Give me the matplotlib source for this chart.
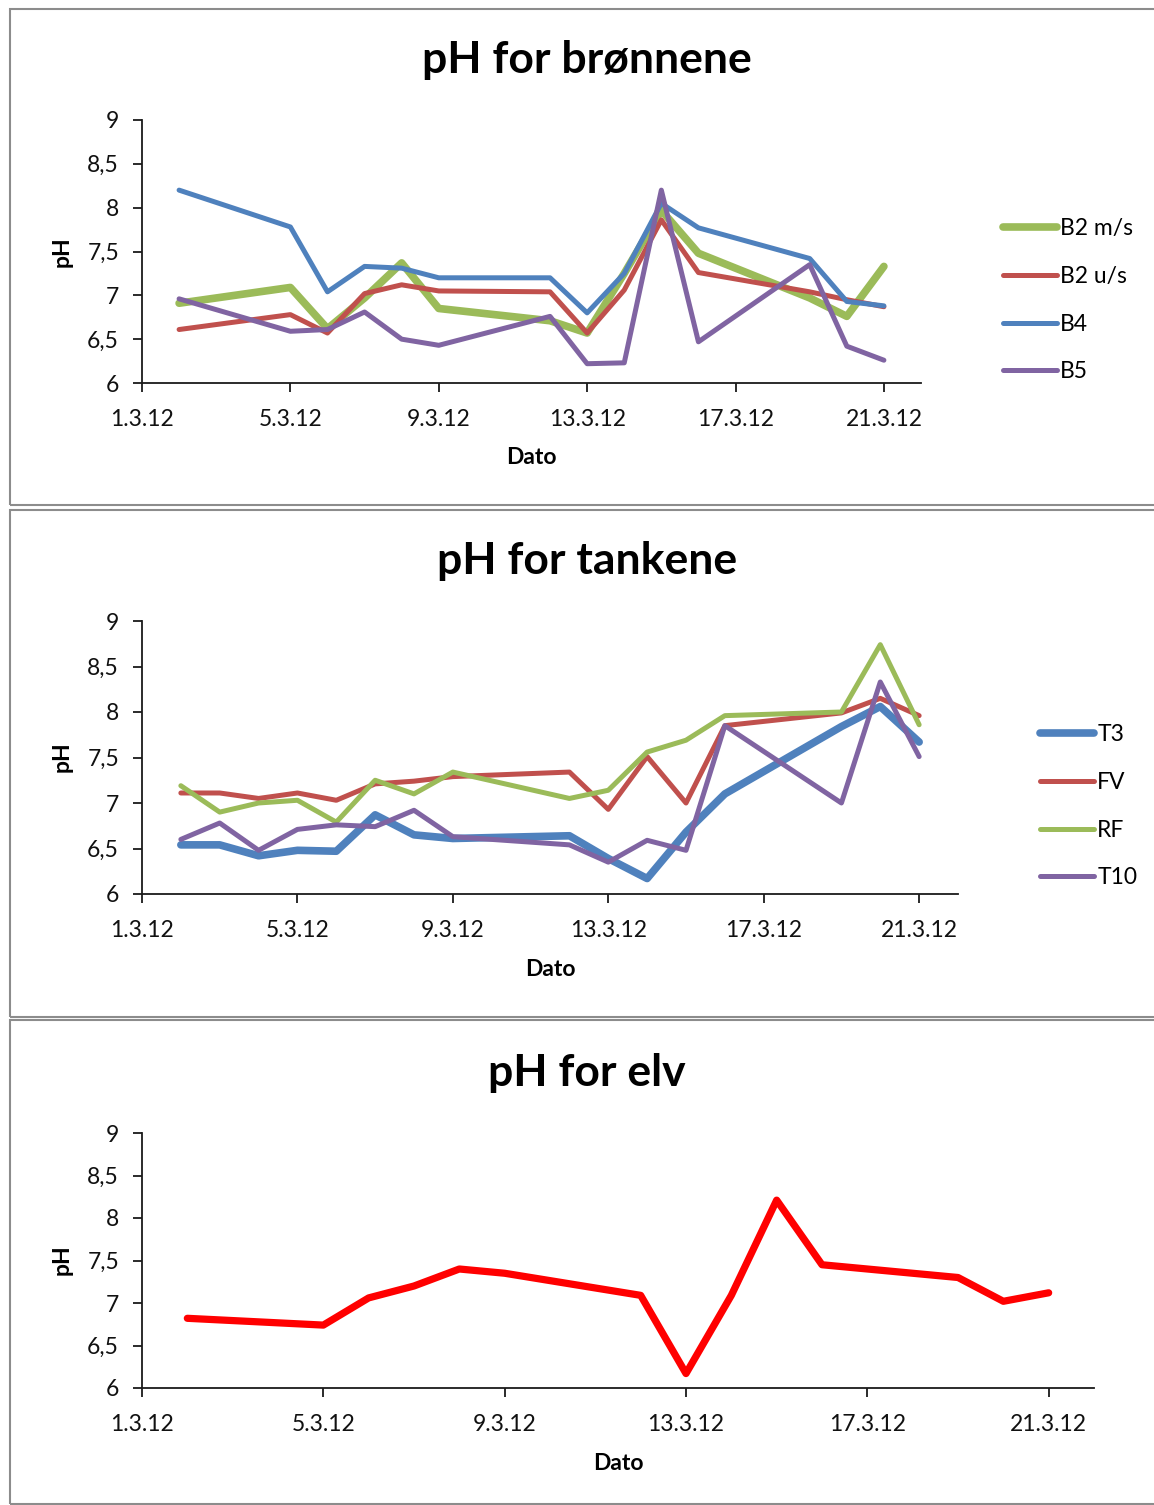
import datetime as dt
import matplotlib
matplotlib.use("Agg")
import matplotlib.pyplot as plt
import matplotlib.dates as mdates
from matplotlib.patches import Rectangle

plt.rcParams['font.family'] = ['Lato', 'DejaVu Sans']

# ---------------- data ----------------
days_b = [2, 5, 6, 7, 8, 9, 12, 13, 14, 15, 16, 19, 20, 21]
b2_ms = [6.91, 7.09, 6.62, 6.97, 7.37, 6.85, 6.71, 6.57, 7.25, 7.97, 7.48, 6.97, 6.76, 7.33]
b2_us = [6.61, 6.78, 6.57, 7.02, 7.12, 7.05, 7.04, 6.57, 7.06, 7.86, 7.26, 7.04, 6.95, 6.87]
b4 = [8.20, 7.78, 7.04, 7.33, 7.31, 7.20, 7.20, 6.80, 7.25, 8.05, 7.77, 7.42, 6.93, 6.88]
b5 = [6.96, 6.59, 6.61, 6.81, 6.50, 6.43, 6.76, 6.22, 6.23, 8.20, 6.47, 7.35, 6.42, 6.26]

days_t = [2, 3, 4, 5, 6, 7, 8, 9, 12, 13, 14, 15, 16, 19, 20, 21]
t3 = [6.54, 6.54, 6.42, 6.48, 6.47, 6.87, 6.65, 6.61, 6.64, 6.39, 6.17, 6.68, 7.10, 7.84, 8.06, 7.67]
fv = [7.11, 7.11, 7.05, 7.11, 7.03, 7.21, 7.24, 7.29, 7.34, 6.93, 7.51, 7.00, 7.85, 7.99, 8.15, 7.96]
rf = [7.19, 6.90, 7.00, 7.03, 6.79, 7.25, 7.10, 7.34, 7.05, 7.14, 7.56, 7.69, 7.96, 8.00, 8.74, 7.86]
t10 = [6.60, 6.78, 6.48, 6.71, 6.76, 6.74, 6.92, 6.63, 6.54, 6.35, 6.59, 6.48, 7.85, 7.00, 8.33, 7.51]

days_e = [2, 5, 6, 7, 8, 9, 12, 13, 14, 15, 16, 19, 20, 21]
elv = [6.82, 6.74, 7.06, 7.20, 7.40, 7.35, 7.09, 6.17, 7.09, 8.21, 7.45, 7.30, 7.02, 7.12]

titles = ["pH for brønnene", "pH for tankene", "pH for elv"]
yticks = [6, 6.5, 7, 7.5, 8, 8.5, 9]
ytick_labels = ["6", "6,5", "7", "7,5", "8", "8,5", "9"]

GREEN = "#9BBB59"
RED = "#C0504D"
BLUE = "#4F81BD"
PURPLE = "#8064A2"

W, H = 1154, 1505
fig = plt.figure(figsize=(W / 100, H / 100), dpi=100)


def fx(x):
    return x / W


def fy(y):
    return 1 - y / H


def dates(days):
    return [dt.datetime(2012, 3, d) for d in days]


# panel frames
for (top, bot) in [(9, 505), (510, 1017), (1020, 1504)]:
    fig.patches.append(Rectangle((fx(10), fy(bot)), fx(1160) - fx(10), fy(top) - fy(bot),
                                 transform=fig.transFigure, fill=False,
                                 edgecolor="#8C8C8C", linewidth=1.5))

panels = [
    dict(l=142, r=921, t=120, b=383, title_y=60, dato_y=458, ph_y=252),
    dict(l=142, r=958, t=621, b=894, title_y=561, dato_y=969, ph_y=757),
    dict(l=142, r=1094, t=1133, b=1388, title_y=1073, dato_y=1463, ph_y=1260),
]

axes = []
for i, p in enumerate(panels):
    ax = fig.add_axes([fx(p['l']), fy(p['b']), fx(p['r']) - fx(p['l']), fy(p['t']) - fy(p['b'])])
    ax.set_xlim(dt.datetime(2012, 3, 1), dt.datetime(2012, 3, 22))
    ax.set_ylim(6, 9)
    ax.set_yticks(yticks)
    ax.set_yticklabels(ytick_labels)
    ax.xaxis.set_major_locator(mdates.DayLocator(bymonthday=[1, 5, 9, 13, 17, 21]))
    ax.xaxis.set_major_formatter(mdates.DateFormatter("%-d.%-m.%y"))
    for s in ['top', 'right']:
        ax.spines[s].set_visible(False)
    for s in ['left', 'bottom']:
        ax.spines[s].set_linewidth(1.3)
        ax.spines[s].set_color("#1a1a1a")
    ax.tick_params(axis='both', direction='out', length=6.5, width=1.3, color="#1a1a1a",
                   labelsize=16.5, labelcolor="#111111")
    ax.tick_params(axis='y', pad=10)
    ax.tick_params(axis='x', pad=12)
    fig.text(fx(587), fy(p['title_y']), titles[i], ha='center', va='center',
             fontsize=32, fontweight='bold')
    fig.text(fx((p['l'] + p['r']) / 2), fy(p['dato_y']), "Dato", ha='center', va='center',
             fontsize=16.5, fontweight='bold')
    fig.text(fx(62), fy(p['ph_y']), "pH", ha='center', va='center', rotation=90,
             fontsize=16.5, fontweight='bold')
    axes.append(ax)

kw = dict(solid_capstyle='round', solid_joinstyle='round')
ax1, ax2, ax3 = axes
ax1.plot(dates(days_b), b2_ms, color=GREEN, lw=5.5, label="B2 m/s", **kw)
ax1.plot(dates(days_b), b2_us, color=RED, lw=3.6, label="B2 u/s", **kw)
ax1.plot(dates(days_b), b4, color=BLUE, lw=3.6, label="B4", **kw)
ax1.plot(dates(days_b), b5, color=PURPLE, lw=3.6, label="B5", **kw)

ax2.plot(dates(days_t), t3, color=BLUE, lw=5.5, label="T3", **kw)
ax2.plot(dates(days_t), fv, color=RED, lw=3.6, label="FV", **kw)
ax2.plot(dates(days_t), rf, color=GREEN, lw=3.6, label="RF", **kw)
ax2.plot(dates(days_t), t10, color=PURPLE, lw=3.6, label="T10", **kw)

ax3.plot(dates(days_e), elv, color="#FF0000", lw=5.2, **kw)

# legends
for ax, anchor in [(ax1, (1003, 218)), (ax2, (1040, 724))]:
    ax.legend(loc='upper left', bbox_to_anchor=(fx(anchor[0]), fy(anchor[1])),
              bbox_transform=fig.transFigure, frameon=False, fontsize=16.5,
              handlelength=2.35, handletextpad=0.15, labelspacing=1.17,
              borderpad=0, borderaxespad=0)

fig.savefig("out.png", dpi=100)
